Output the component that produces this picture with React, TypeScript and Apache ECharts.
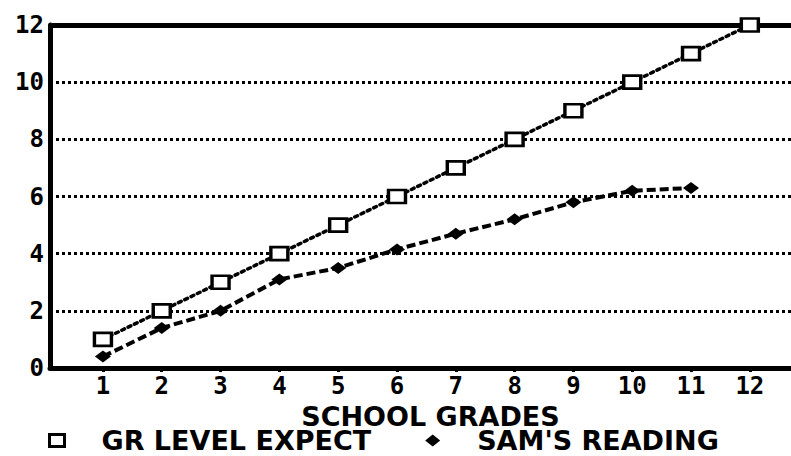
import React, { useEffect, useRef } from "react";
import * as echarts from "echarts";

const grades = [1, 2, 3, 4, 5, 6, 7, 8, 9, 10, 11, 12];
const grLevelExpect = [1, 2, 3, 4, 5, 6, 7, 8, 9, 10, 11, 12];
const samsReading = [0.4, 1.4, 2.0, 3.1, 3.5, 4.15, 4.7, 5.2, 5.8, 6.2, 6.3];
const seriesNames = ["GR LEVEL EXPECT", "SAM'S READING"];
const xAxisName = "SCHOOL GRADES";

export default function App() {
  const ref = useRef<HTMLDivElement>(null);
  useEffect(() => {
    document.body.style.margin = "0";
    const chart = echarts.init(ref.current!, null, { renderer: "svg" });
    const mono = "DejaVu Sans Mono";
    const sans = "DejaVu Sans";
    chart.setOption({
      animation: false,
      backgroundColor: "#fff",
      grid: { left: 50, right: 0, top: 25, bottom: 88, containLabel: false },
      xAxis: {
        type: "value",
        min: 0.1,
        max: 12.7,
        name: xAxisName,
        nameLocation: "middle",
        nameGap: 24,
        nameTextStyle: {
          fontFamily: sans,
          fontWeight: "bold",
          fontSize: 27,
          lineHeight: 26,
          color: "#000",
          padding: [0, 0, 0, 20],
        },
        axisLine: { show: true, lineStyle: { color: "#000", width: 5 } },
        axisTick: {
          show: true,
          customValues: grades,
          length: 4,
          lineStyle: { color: "#000", width: 3 },
        },
        axisLabel: {
          customValues: grades,
          fontFamily: mono,
          fontWeight: "bold",
          fontSize: 24,
          color: "#000",
          margin: 6,
        },
        splitLine: { show: false },
      },
      yAxis: {
        type: "value",
        min: 0,
        max: 12,
        interval: 2,
        axisLine: { show: true, lineStyle: { color: "#000", width: 5 } },
        axisTick: { show: false },
        axisLabel: {
          fontFamily: mono,
          fontWeight: "bold",
          fontSize: 24,
          color: "#000",
          margin: 6,
        },
        splitLine: {
          show: true,
          lineStyle: { color: "#000", width: 3, type: [3, 3] },
        },
      },
      legend: {
        left: 48,
        top: 427,
        padding: 0,
        itemGap: 54,
        itemWidth: 15,
        itemHeight: 12,
        textStyle: {
          fontFamily: sans,
          fontWeight: "bold",
          fontSize: 27,
          lineHeight: 26,
          color: "#000",
          padding: [0, 0, 0, 32],
        },
        data: [
          {
            name: seriesNames[0],
            icon: "rect",
            itemStyle: { color: "#fff", borderColor: "#000", borderWidth: 3 },
          },
          {
            name: seriesNames[1],
            icon: "diamond",
            itemStyle: { color: "#000", borderWidth: 0 },
          },
        ],
      },
      series: [
        {
          name: seriesNames[0],
          type: "line",
          data: grades.map((g, i) => [g, grLevelExpect[i]]),
          symbol: "rect",
          symbolSize: [17, 13],
          itemStyle: { color: "#fff", borderColor: "#000", borderWidth: 3 },
          lineStyle: { color: "#000", width: 3.5, type: [3, 4], cap: "round" },
          z: 3,
          markLine: {
            silent: true,
            symbol: "none",
            label: { show: false },
            lineStyle: { color: "#000", width: 5, type: "solid" },
            data: [{ yAxis: 12 }],
            z: 1,
          },
        },
        {
          name: seriesNames[1],
          type: "line",
          data: samsReading.map((v, i) => [grades[i], v]),
          symbol: "diamond",
          symbolSize: [16, 12],
          itemStyle: { color: "#000" },
          lineStyle: { color: "#000", width: 4, type: [9, 4] },
          z: 4,
        },
      ],
    });
    return () => chart.dispose();
  }, []);
  return <div ref={ref} style={{ width: 791, height: 456 }} />;
}
